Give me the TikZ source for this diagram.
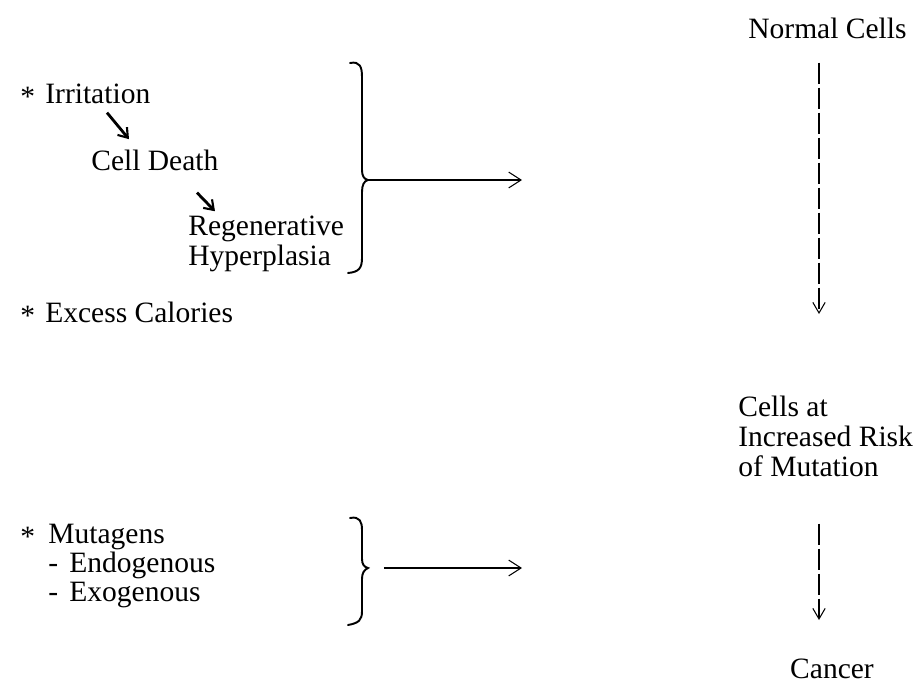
\documentclass[tikz,border=0pt]{standalone}
\usepackage{fontspec}
\setmainfont{Liberation Serif}
\usetikzlibrary{arrows.meta}

\begin{document}
\begin{tikzpicture}[x=0.02cm, y=-0.02cm,
  txt/.style={inner sep=0pt, font=\fontsize{16.8}{17}\selectfont},
  brace/.style={line width=1.1pt, line cap=round},
  feed/.style={line width=1.1pt, -{Straight Barb[length=7pt, width=9pt, line width=0.6pt]}},
  flow/.style={line width=1.2pt, dash pattern=on 0.42cm off 0.08cm, -{Straight Barb[length=6pt, width=7pt, line width=0.6pt]}},
  hop/.style={line width=1.6pt, -{Straight Barb[length=5pt, width=7pt, line width=1.2pt]}}]
\useasboundingbox (0,0) rectangle (920,691);
% Right column: the stages
\node[txt, anchor=base west] (normal) at (748,38) {Normal Cells};
\node[txt, anchor=base west, align=left] (risk) at (738,476) {Cells at\\Increased Risk\\of Mutation};
\node[txt, anchor=base] (cancer) at (832,678) {Cancer};
\coordinate (tip1) at (819,314);
\coordinate (tip2) at (819,620);
\draw[flow] (normal.south -| tip1) ++(0,24) -- (tip1);
\draw[flow] (risk.south -| tip2) ++(0,47) -- (tip2);
% Left column: the factors
\node[txt, anchor=base west] (s1) at (20,106) {*};
\node[txt, anchor=base west] (irr) at (45,103) {Irritation};
\node[txt, anchor=base west] (death) at (91,170) {Cell Death};
\node[txt, anchor=base west, align=left] (regen) at (188,265) {Regenerative\\Hyperplasia};
\draw[hop] ([xshift=1.24cm, yshift=-0.18cm]irr.south west) -- ([xshift=0.76cm, yshift=0.2cm]death.north west);
\draw[hop] ([xshift=2.12cm, yshift=-0.44cm]death.south west) -- ([xshift=0.54cm, yshift=0.08cm]regen.north west);
\node[txt, anchor=base west] (s2) at (20,325) {*};
\node[txt, anchor=base west] (cal) at (45,322) {Excess Calories};
\node[txt, anchor=base west] (s3) at (20,546) {*};
\node[txt, anchor=base west] (muta) at (48,543) {Mutagens};
\node[txt, anchor=base west] (d1) at (48,572) {-};
\node[txt, anchor=base west] (endo) at (69,572) {Endogenous};
\node[txt, anchor=base west] (d2) at (48,601) {-};
\node[txt, anchor=base west] (exo) at (69,601) {Exogenous};
% Braces with their arrows
\coordinate (b1) at (368,180);
\coordinate (e1) at (522,180);
\draw[brace] (350,63) .. controls (360,61) and (362,67) .. (362,77) -- (362,170)
  .. controls (362,176) and (364,179) .. (b1)
  .. controls (364,181) and (362,185) .. (362,192) -- (362,258)
  .. controls (362,268) and (359,272) .. (348,273);
\draw[feed] (b1) -- (e1);
\coordinate (b2) at (368,568);
\coordinate (e2) at (522,568);
\draw[brace] (350,518) .. controls (360,516) and (362,522) .. (362,530) -- (362,559)
  .. controls (362,564) and (364,567) .. (b2)
  .. controls (364,570) and (362,573) .. (362,579) -- (362,611)
  .. controls (362,620) and (359,623) .. (348,625);
\draw[feed] ([xshift=9pt]b2) -- (e2);
\end{tikzpicture}
\end{document}
